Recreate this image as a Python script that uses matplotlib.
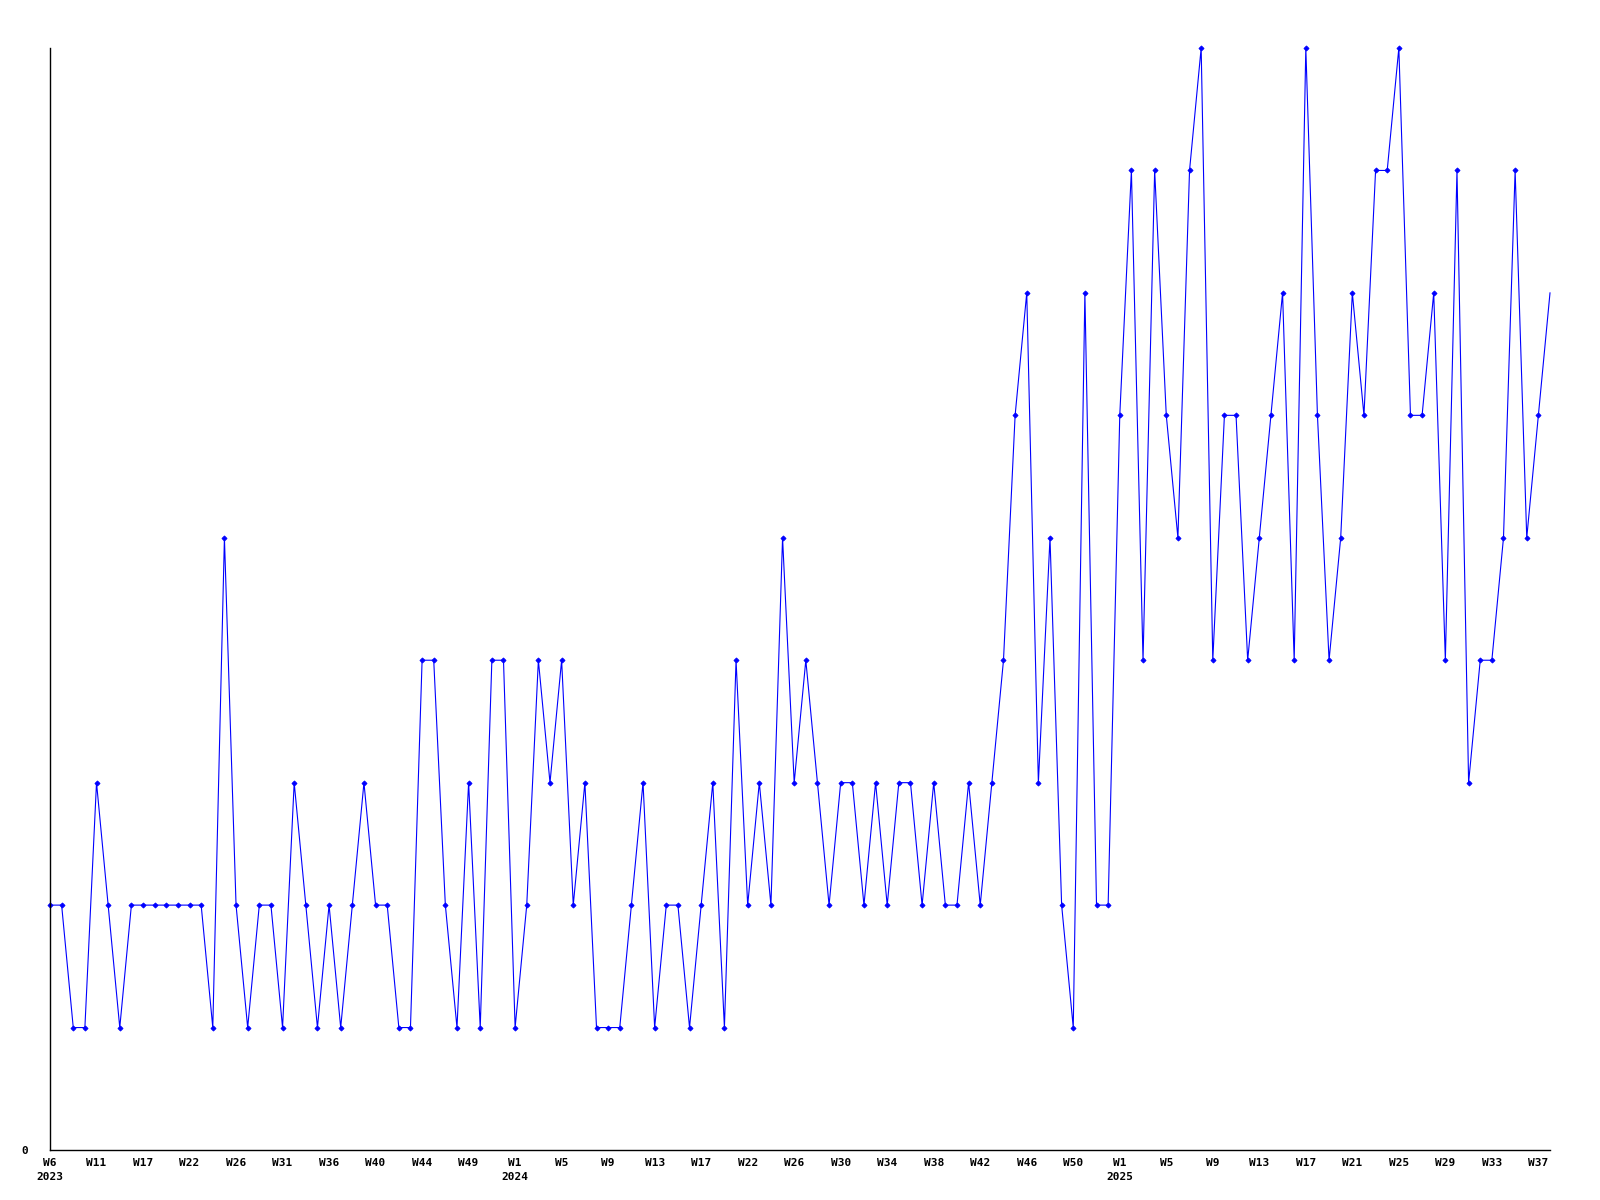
import matplotlib
matplotlib.use("Agg")
import matplotlib.pyplot as plt

values = [2, 2, 1, 1, 3, 2, 1, 2, 2, 2, 2, 2, 2, 2, 1, 5, 2, 1, 2, 2,
          1, 3, 2, 1, 2, 1, 2, 3, 2, 2, 1, 1, 4, 4, 2, 1, 3, 1, 4, 4,
          1, 2, 4, 3, 4, 2, 3, 1, 1, 1, 2, 3, 1, 2, 2, 1, 2, 3, 1, 4,
          2, 3, 2, 5, 3, 4, 3, 2, 3, 3, 2, 3, 2, 3, 3, 2, 3, 2, 2, 3,
          2, 3, 4, 6, 7, 3, 5, 2, 1, 7, 2, 2, 6, 8, 4, 8, 6, 5, 8, 9,
          4, 6, 6, 4, 5, 6, 7, 4, 9, 6, 4, 5, 7, 6, 8, 8, 9, 6, 6, 7,
          4, 8, 3, 4, 4, 5, 8, 5, 6, 7]

tick_weeks = ["W6", "W11", "W17", "W22", "W26", "W31", "W36", "W40", "W44", "W49",
              "W1", "W5", "W9", "W13", "W17", "W22", "W26", "W30", "W34", "W38",
              "W42", "W46", "W50",
              "W1", "W5", "W9", "W13", "W17", "W21", "W25", "W29", "W33", "W37"]
tick_years = {0: "2023", 10: "2024", 23: "2025"}

fig = plt.figure(figsize=(16, 12), dpi=100)
ax = fig.add_axes([50/1600, 1 - 1150/1200, 1500/1600, (1150-48)/1200])

x = list(range(len(values)))
ax.plot(x, values, color="#0000FF", linewidth=0.8, marker="D", markersize=2.6,
        markevery=list(range(len(values) - 1)), markeredgewidth=0.6, clip_on=False)

ax.set_xlim(0, len(values) - 1)
ax.set_ylim(0, max(values))

positions = list(range(0, len(values), 4))[:len(tick_weeks)]
labels = []
for i, w in enumerate(tick_weeks):
    if i in tick_years:
        labels.append(w + "\n" + tick_years[i])
    else:
        labels.append(w)
ax.set_xticks(positions)
ax.set_xticklabels(labels, fontfamily="DejaVu Sans Mono", fontweight="bold",
                   fontsize=8, linespacing=1.45, va="top")
ax.tick_params(axis="x", length=0, pad=6)
ax.set_yticks([0])
ax.set_yticklabels(["0"], fontfamily="DejaVu Sans Mono", fontweight="bold", fontsize=8)
ax.tick_params(axis="y", length=0, pad=16)

for s in ["top", "right"]:
    ax.spines[s].set_visible(False)
for s in ["left", "bottom"]:
    ax.spines[s].set_color("black")
    ax.spines[s].set_linewidth(1.0)

fig.savefig("out.png", dpi=100)
